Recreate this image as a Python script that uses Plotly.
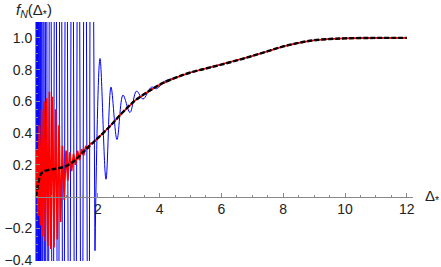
import plotly.graph_objects as go

# ---- data ----
black_x = [0, 0.03, 0.06, 0.1, 0.15, 0.2, 0.3, 0.45, 0.6, 0.8, 1.0, 1.2, 1.4, 1.6, 1.8, 2.0,
           2.4, 2.8, 3.2, 3.6, 4.0, 4.5, 5.0, 5.5, 6.0, 6.5, 7.0, 7.5, 8.0, 8.5, 9.0, 9.5,
           10.0, 11.0, 12.0]
black_y = [0, 0.03, 0.07, 0.11, 0.14, 0.152, 0.163, 0.17, 0.175, 0.182, 0.195, 0.22, 0.255,
           0.295, 0.333, 0.368, 0.445, 0.53, 0.605, 0.658, 0.705, 0.748, 0.782, 0.807, 0.832,
           0.858, 0.886, 0.916, 0.946, 0.969, 0.985, 0.993, 0.997, 1.0, 1.0]

red_osc_x = [0.000, 0.032, 0.065, 0.104, 0.142, 0.181, 0.220, 0.259, 0.301, 0.343, 0.388,
             0.434, 0.482, 0.531, 0.583, 0.634, 0.689, 0.744, 0.799, 0.854, 0.913, 0.971,
             1.029, 1.091, 1.152, 1.214, 1.278, 1.343, 1.408, 1.476, 1.544, 1.612, 1.683,
             1.754]
red_osc_y = [0.0, 0.30, -0.12, 0.45, -0.18, 0.55, -0.25, 0.60, -0.28, 0.62, -0.31,
             0.66, -0.33, 0.63, -0.32, 0.55, -0.27, 0.45, -0.16, 0.32, -0.02, 0.29,
             0.10, 0.28, 0.16, 0.27, 0.20, 0.29, 0.23, 0.30, 0.26, 0.32, 0.30,
             0.335]

blue_dense_x = [0.000, 0.006, 0.013, 0.021, 0.030, 0.040, 0.051, 0.064, 0.078, 0.094, 0.112,
                0.132, 0.155, 0.180, 0.210, 0.245, 0.285, 0.330, 0.383, 0.458, 0.539, 0.626,
                0.712, 0.798, 0.885, 0.977, 1.074, 1.172, 1.269, 1.371, 1.477, 1.586, 1.699,
                1.780, 1.909]
blue_dense_y = [-3.0, 4.0, -3.0, 4.0, -3.0, 4.0, -3.0, 4.0, -3.0, 4.0, -3.0,
                4.0, -3.0, 4.0, -3.0, 4.0, -3.0, 4.0, -3.0, 4.0, -3.0, 4.0,
                -3.0, 4.0, -3.0, 4.0, -3.0, 4.0, -3.0, 4.0, -3.0, 4.0, -3.0,
                4.0, -0.34]

blue_damped_x = [1.909, 2.071, 2.265, 2.427, 2.621, 2.816, 3.042, 3.253, 3.463, 3.738,
                 3.900, 4.170, 4.5]
blue_damped_y = [-0.34, 0.87, 0.11, 0.69, 0.36, 0.64, 0.53, 0.665, 0.615, 0.69,
                 0.68, 0.728, 0.748]

x_tick_vals = [2, 4, 6, 8, 10, 12]
x_tick_text = ["2", "4", "6", "8", "10", "12"]
y_tick_vals = [-0.4, -0.2, 0.2, 0.4, 0.6, 0.8, 1.0]
y_tick_text = ["\u22120.4", "\u22120.2", "0.2", "0.4", "0.6", "0.8", "1.0"]

X_RANGE = [0, 12.2]
Y_RANGE = [-0.405, 1.1]

# tails that coincide with the exact curve
red_x = red_osc_x + [x for x in black_x if x > 1.76]
red_y = red_osc_y + [y for x, y in zip(black_x, black_y) if x > 1.76]
blue_x2 = blue_damped_x + [x for x in black_x if x > 4.5]
blue_y2 = blue_damped_y + [y for x, y in zip(black_x, black_y) if x > 4.5]

FONT = "Liberation Sans, Arial, sans-serif"

fig = go.Figure()
fig.add_trace(go.Scatter(x=blue_dense_x, y=blue_dense_y, mode="lines",
                         line=dict(color="#0000ff", width=1), hoverinfo="skip"))
fig.add_trace(go.Scatter(x=blue_x2, y=blue_y2, mode="lines",
                         line=dict(color="#0000ff", width=1, shape="spline"), hoverinfo="skip"))
fig.add_trace(go.Scatter(x=red_x, y=red_y, mode="lines",
                         line=dict(color="#ff0000", width=1.7), hoverinfo="skip"))
fig.add_trace(go.Scatter(x=black_x, y=black_y, mode="lines",
                         line=dict(color="#000000", width=2.4, dash="5px,2px", shape="spline"),
                         hoverinfo="skip"))

x0_frac = (0 - Y_RANGE[0]) / (Y_RANGE[1] - Y_RANGE[0])

fig.update_layout(
    width=441, height=267,
    margin=dict(l=36, r=28, t=22, b=6, autoexpand=False),
    paper_bgcolor="white", plot_bgcolor="white",
    showlegend=False,
    font=dict(family=FONT, size=14, color="#222222"),
    xaxis=dict(range=X_RANGE, anchor="free", position=x0_frac, automargin=False,
               showgrid=False, zeroline=False, showline=True, linecolor="#888888",
               linewidth=1, ticks="inside", ticklen=4, tickcolor="#888888",
               tickmode="array", tickvals=x_tick_vals, ticktext=x_tick_text,
               ticklabeloverflow="allow",
               minor=dict(tickmode="linear", tick0=0, dtick=0.5, ticks="inside",
                          ticklen=2, tickcolor="#888888"),
               tickfont=dict(family=FONT, size=14, color="#222222")),
    yaxis=dict(range=Y_RANGE, showgrid=False, zeroline=False, showline=True, automargin=False,
               linecolor="#888888", linewidth=1, ticks="inside", ticklen=4,
               tickcolor="#888888", tickmode="array", tickvals=y_tick_vals,
               ticktext=y_tick_text, ticklabeloverflow="allow",
               minor=dict(tickmode="linear", tick0=0, dtick=0.05, ticks="inside",
                          ticklen=2, tickcolor="#888888"),
               tickfont=dict(family=FONT, size=14, color="#222222")),
    annotations=[
        dict(text="<i>f</i><sub><i>N</i></sub>(\u0394<sub>*</sub>)", xref="paper", yref="paper",
             x=-0.005, y=1.0, xanchor="center", yanchor="bottom", showarrow=False,
             font=dict(family=FONT, size=15, color="#222222")),
        dict(text="\u0394<sub>*</sub>", xref="paper", yref="paper", x=1.027, y=x0_frac,
             xanchor="left", yanchor="middle", showarrow=False,
             font=dict(family=FONT, size=15, color="#222222")),
    ],
)

fig.write_html("out.html", config={"displayModeBar": False, "staticPlot": True},
               post_script="document.body.style.margin='0';document.body.style.padding='0';")
